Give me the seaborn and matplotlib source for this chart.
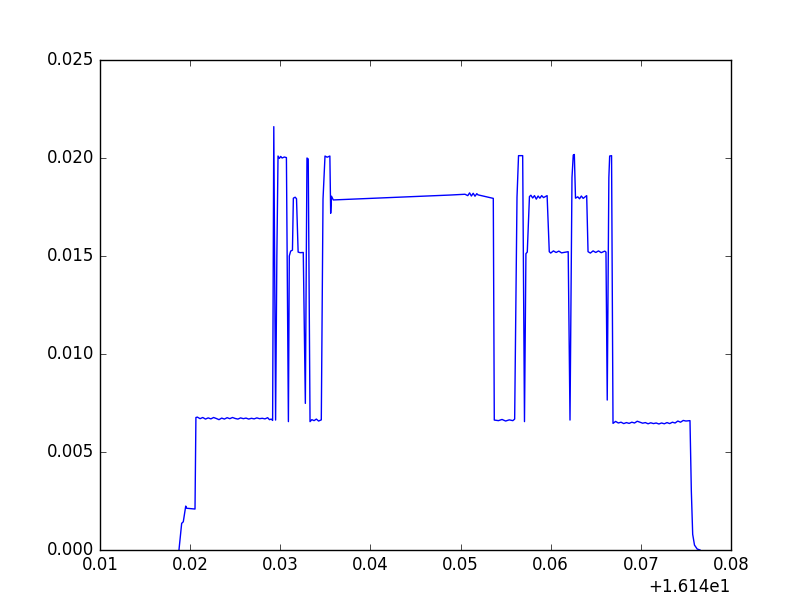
import numpy as np
import pandas as pd
import seaborn as sns
import matplotlib
matplotlib.use("Agg")
import matplotlib.pyplot as plt
from matplotlib.ticker import ScalarFormatter

# time axis is shown relative to an offset of 16.14
x_offset = 16.14

t_rel = [0.01876, 0.01906, 0.01924, 0.01951, 0.01961, 0.02054, 0.02064,
         0.0208, 0.0211, 0.0214, 0.0217, 0.0220, 0.0223, 0.0226, 0.0229, 0.0232,
         0.0235, 0.0238, 0.0241, 0.0244, 0.0247, 0.0250, 0.0253, 0.0256, 0.0259,
         0.0262, 0.0265, 0.0268, 0.0271, 0.0274, 0.0277, 0.0280, 0.0283, 0.0286,
         0.0288, 0.0290, 0.02915,
         0.02928, 0.02948, 0.02962, 0.02975, 0.02990, 0.03005, 0.03020, 0.03045,
         0.03068, 0.03090, 0.03100, 0.03115, 0.03135, 0.03145, 0.03165, 0.03180,
         0.03198, 0.03220, 0.03255, 0.03278, 0.03296, 0.03310, 0.03330, 0.03350,
         0.03375, 0.03400, 0.03425, 0.03455, 0.03474, 0.03496, 0.03520, 0.03550,
         0.03559, 0.03568, 0.03588, 0.04883, 0.05049,
         0.05080, 0.05100, 0.05120, 0.05140, 0.05160, 0.05180, 0.05193, 0.05363,
         0.05374, 0.05420, 0.05460, 0.05500, 0.05540, 0.05580, 0.05600,
         0.05626, 0.05643, 0.05689, 0.05709, 0.05725, 0.05740, 0.05764,
         0.0578, 0.0580, 0.0582, 0.0584, 0.0586, 0.0588, 0.0590, 0.0592, 0.05960,
         0.05984, 0.0600, 0.0603, 0.0606, 0.0609, 0.0612, 0.06194,
         0.06214, 0.06236, 0.06250, 0.06262, 0.06275,
         0.0630, 0.0632, 0.0634, 0.0636, 0.06399,
         0.06414, 0.0644, 0.0647, 0.0650, 0.0653, 0.0656, 0.06600, 0.06613,
         0.06627, 0.06645, 0.06654, 0.06675, 0.06691,
         0.0672, 0.0675, 0.0678, 0.0681, 0.0684, 0.0687, 0.0690, 0.0693, 0.0696,
         0.0699, 0.0702, 0.0705, 0.0708, 0.0711, 0.0714, 0.0717, 0.0720, 0.0723,
         0.0726, 0.0729, 0.0732, 0.0735, 0.0738, 0.0741, 0.0744, 0.07470, 0.07500,
         0.07545, 0.07560, 0.07575, 0.07595, 0.07625, 0.07656]

signal = [0.0, 0.00136, 0.00144, 0.00224, 0.00213, 0.00209, 0.00676,
          0.00678, 0.00670, 0.00676, 0.00668, 0.00674, 0.00669, 0.00676, 0.00671, 0.00665,
          0.00673, 0.00668, 0.00675, 0.00670, 0.00676, 0.00671, 0.00668, 0.00674, 0.00670,
          0.00673, 0.00668, 0.00672, 0.00669, 0.00674, 0.00670, 0.00672, 0.00669, 0.00675,
          0.00665, 0.00668, 0.00661,
          0.0216, 0.00663, 0.0150, 0.02010, 0.01998, 0.02008, 0.02000, 0.02005,
          0.02002, 0.00655, 0.0150, 0.01525, 0.01530, 0.01795, 0.01800, 0.01792,
          0.01520, 0.01517, 0.01518, 0.00748, 0.02000, 0.01995, 0.00655, 0.00665,
          0.00660, 0.00668, 0.00658, 0.00664, 0.01790, 0.02010, 0.02004, 0.02010,
          0.01718, 0.01805, 0.01786, 0.01811, 0.01815,
          0.01808, 0.01822, 0.01806, 0.01820, 0.01805, 0.01818, 0.01812, 0.01794,
          0.00663, 0.00660, 0.00666, 0.00658, 0.00664, 0.00660, 0.00668,
          0.01800, 0.02012, 0.02012, 0.00655, 0.01512, 0.01520, 0.01803,
          0.01810, 0.01796, 0.01808, 0.01790, 0.01806, 0.01795, 0.01808, 0.01798, 0.01808,
          0.01522, 0.01515, 0.01526, 0.01518, 0.01525, 0.01516, 0.01522,
          0.00663, 0.01900, 0.02015, 0.02018, 0.01795,
          0.01802, 0.01792, 0.01806, 0.01794, 0.01808,
          0.01522, 0.01515, 0.01526, 0.01518, 0.01526, 0.01517, 0.01525, 0.01520,
          0.00765, 0.01900, 0.02010, 0.02012, 0.00646,
          0.00656, 0.00648, 0.00652, 0.00645, 0.00650, 0.00646, 0.00652, 0.00648, 0.00657,
          0.00652, 0.00647, 0.00650, 0.00644, 0.00649, 0.00645, 0.00648, 0.00643, 0.00648,
          0.00644, 0.00650, 0.00645, 0.00652, 0.00648, 0.00658, 0.00652, 0.00661, 0.00658,
          0.00660, 0.00300, 0.00080, 0.00025, 0.00005, 0.0]

df = pd.DataFrame({"t": x_offset + np.array(t_rel), "v": signal})

plt.style.use("classic")
fig = plt.figure(figsize=(8.12, 6.12), dpi=100)
ax = fig.add_axes([100 / 812, 62 / 612, 631 / 812, 490 / 612])

sns.lineplot(data=df, x="t", y="v", ax=ax, color="b", linewidth=1.0,
             estimator=None, sort=False)

ax.set_xlim(x_offset + 0.01, x_offset + 0.08)
ax.set_ylim(0, 0.025)
ax.xaxis.set_major_formatter(ScalarFormatter(useOffset=x_offset))
ax.set_xlabel("")
ax.set_ylabel("")

fig.savefig("out.png", dpi=100, facecolor="white")
